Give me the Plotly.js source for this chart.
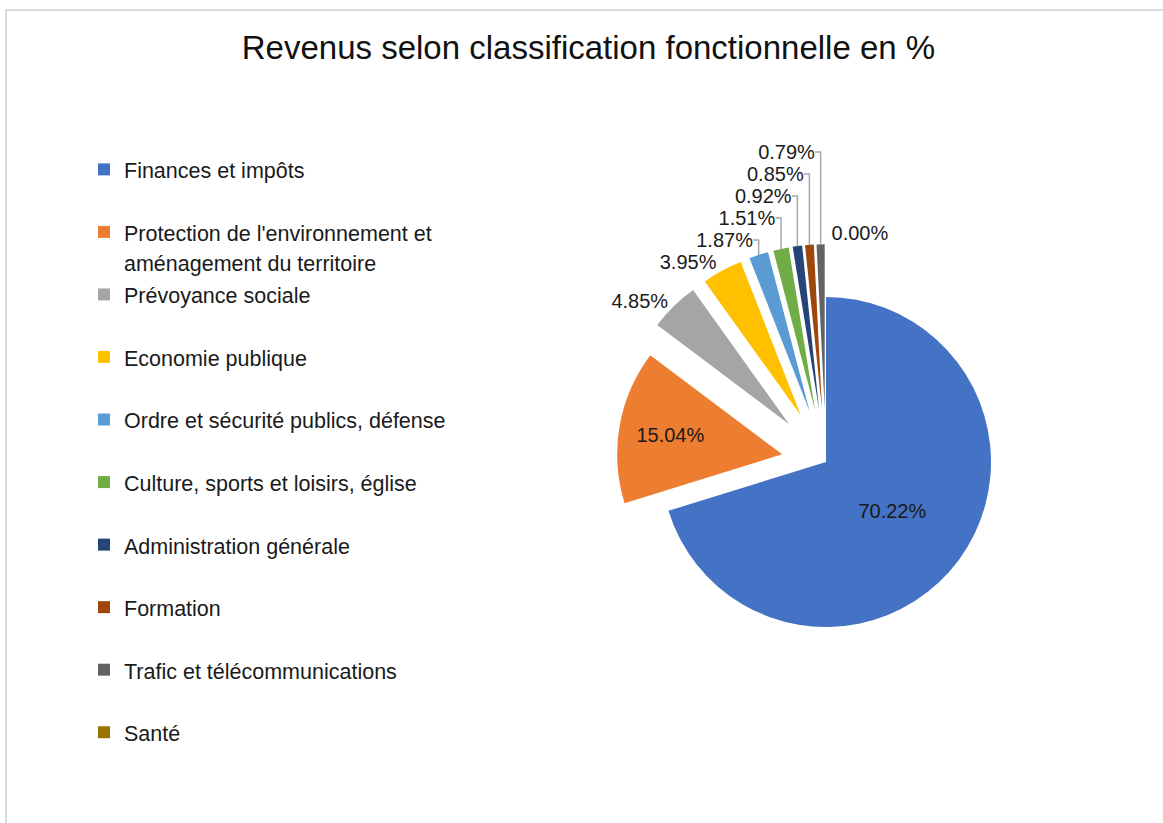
<!DOCTYPE html>
<html>
<head>
<meta charset="utf-8">
<script src="https://cdn.plot.ly/plotly-3.0.1.min.js"></script>
<style>
html,body{margin:0;padding:0;background:#fff;}
#chart{width:1163px;height:823px;}
#chart path.textline{stroke:#a6a6a6 !important;stroke-width:1.5px !important;}
</style>
</head>
<body>
<div id="chart"></div>
<script>
const categories = [
  "Finances et impôts",
  "Protection de l'environnement et aménagement du territoire",
  "Prévoyance sociale",
  "Economie publique",
  "Ordre et sécurité publics, défense",
  "Culture, sports et loisirs, église",
  "Administration générale",
  "Formation",
  "Trafic et télécommunications",
  "Santé"
];
const legendLines = [
  ["Finances et impôts"],
  ["Protection de l'environnement et", "aménagement du territoire"],
  ["Prévoyance sociale"],
  ["Economie publique"],
  ["Ordre et sécurité publics, défense"],
  ["Culture, sports et loisirs, église"],
  ["Administration générale"],
  ["Formation"],
  ["Trafic et télécommunications"],
  ["Santé"]
];
const values = [70.22, 15.04, 4.85, 3.95, 1.87, 1.51, 0.92, 0.85, 0.79, 0.00];
const colors = ["#4472C4", "#ED7D31", "#A5A5A5", "#FFC000", "#5B9BD5", "#70AD47", "#264478", "#9E480E", "#636363", "#997300"];
const pulls = [0, 0.27, 0.32, 0.32, 0.32, 0.32, 0.32, 0.32, 0.32, 0.32];
const textPositions = ["inside", "inside", "outside", "outside", "outside", "outside", "outside", "outside", "outside", "outside"];

const span = s => '<span style="font-size:21.5px">' + s + '</span>';
const labels = legendLines.map(lines => {
  const parts = lines.map(span);
  if (parts.length < 2) parts.push(' ');
  return parts.join('<br>');
});

const trace = {
  type: 'pie',
  labels: labels,
  values: values,
  customdata: categories,
  sort: false,
  direction: 'clockwise',
  rotation: 0,
  pull: pulls,
  marker: {colors: colors, line: {width: 0}},
  textposition: textPositions,
  texttemplate: '%{percent:.2%}',
  insidetextorientation: 'horizontal',
  textfont: {family: 'Liberation Sans, Arial, sans-serif', size: 20, color: '#1a1a1a'},
  outsidetextfont: {family: 'Liberation Sans, Arial, sans-serif', size: 20, color: '#1a1a1a'},
  hovertemplate: '%{customdata}: %{percent:.2%}<extra></extra>',
  domain: {x: [0.523, 0.8975], y: [0.174, 0.7033]},
  showlegend: true
};

const layout = {
  width: 1163,
  height: 823,
  margin: {l: 0, r: 0, t: 0, b: 0},
  paper_bgcolor: '#ffffff',
  font: {family: 'Liberation Sans, Arial, sans-serif', color: '#1a1a1a'},
  title: {
    text: 'Revenus selon classification fonctionnelle en %',
    font: {family: 'Liberation Sans, Arial, sans-serif', size: 33, color: '#111111'},
    x: 0.506, xanchor: 'center',
    y: 1 - 47 / 823, yref: 'container', yanchor: 'middle'
  },
  legend: {
    x: 84 / 1163, xanchor: 'left',
    y: 1 - 148 / 823, yanchor: 'top',
    valign: 'top',
    font: {family: 'Liberation Sans, Arial, sans-serif', size: 22.9, color: '#1a1a1a'},
    bgcolor: 'rgba(0,0,0,0)'
  },
  shapes: [{
    type: 'rect', xref: 'paper', yref: 'paper',
    x0: 6 / 1163, x1: 1.05, y0: -0.05, y1: 1 - 10 / 823,
    line: {color: '#d9d9d9', width: 2}, fillcolor: 'rgba(0,0,0,0)', layer: 'below'
  }]
};

Plotly.newPlot('chart', [trace], layout, {displayModeBar: false, staticPlot: true});
</script>
</body>
</html>
